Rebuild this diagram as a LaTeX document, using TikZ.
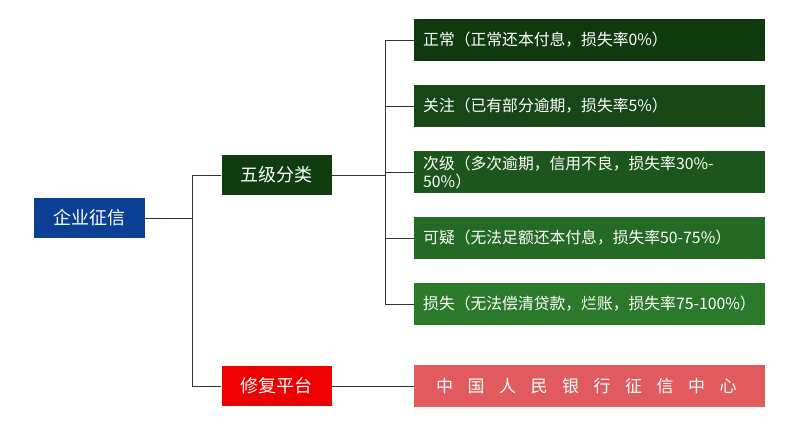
\documentclass[tikz,border=0pt]{standalone}
\usepackage{fontspec}
\setmainfont{Noto Sans CJK SC}
\definecolor{qyblue}{HTML}{0A3F93}
\definecolor{g1}{HTML}{0E3A0E}
\definecolor{g2}{HTML}{174717}
\definecolor{g3}{HTML}{1D561D}
\definecolor{g4}{HTML}{246A24}
\definecolor{g5}{HTML}{2B7A2B}
\definecolor{fxred}{HTML}{EE0000}
\definecolor{zxred}{HTML}{E05A5E}
\newcommand{\gap}{\hspace{14.5bp}}
\tikzset{
  mainbox/.style={rectangle, text=white, font=\fontsize{18bp}{21bp}\selectfont, minimum width=110bp, minimum height=40bp, inner sep=0pt},
  levelbox/.style={rectangle, text=white, font=\fontsize{15.8bp}{18bp}\selectfont, minimum width=351bp, minimum height=42bp, inner sep=0pt, anchor=west, text width=333bp, align=left},
  link/.style={draw=black!80, line width=0.8bp}
}
\begin{document}
\begin{tikzpicture}[x=1bp, y=-1bp]
    \useasboundingbox (0,0) rectangle (800,438);
    \node (credit) at (89.5,218) [mainbox, fill=qyblue, minimum width=111bp] {企业征信};
    \node (five) at (276.5,175) [mainbox, fill=g1!80!g2] {五级分类};
    \node (repair) at (276.5,386) [mainbox, fill=fxred] {修复平台};

    \node (normal) at (414,40) [levelbox, fill=g1] {正常（正常还本付息，损失率0\%）};
    \node (watch) at (414,106) [levelbox, fill=g2] {关注（已有部分逾期，损失率5\%）};
    \node (sub) at (414,172) [levelbox, fill=g3] {次级（多次逾期，信用不良，损失率30\%-50\%）};
    \node (doubt) at (414,238) [levelbox, fill=g4] {可疑（无法足额还本付息，损失率50-75\%）};
    \node (loss) at (414,304) [levelbox, fill=g5] {损失（无法偿清贷款，烂账，损失率75-100\%）};
    \node (center) at (414,386) [levelbox, fill=zxred, font=\fontsize{17bp}{20bp}\selectfont, text width=307bp] {中\gap 国\gap 人\gap 民\gap 银\gap 行\gap 征\gap 信\gap 中\gap 心};

    \coordinate (j1) at (192,218);
    \coordinate (j2) at (385,175);
    \draw[link] (credit.east) -- (j1) |- (five.west);
    \draw[link] (j1) |- (repair.west);
    \draw[link] (repair.east) -- (center.west);
    \draw[link] (five.east) -- (j2);
    \foreach \n in {normal, watch, sub, doubt, loss}
        \draw[link] (j2) |- (\n.west);
\end{tikzpicture}
\end{document}
